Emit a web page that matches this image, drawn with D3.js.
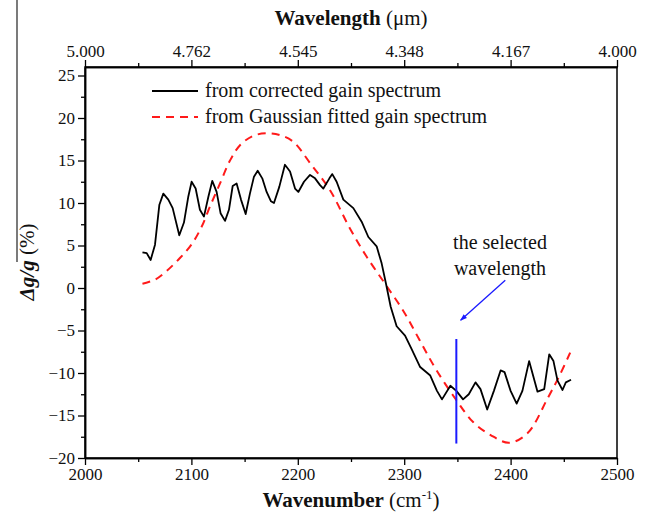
<!DOCTYPE html>
<html>
<head>
<meta charset="utf-8">
<script src="https://cdn.jsdelivr.net/npm/d3@7"></script>
<style>
body { margin: 0; background: #fff; }
svg { font-family: "Liberation Serif", "Times New Roman", serif; }
</style>
</head>
<body>
<svg id="chart" width="648" height="512"></svg>
<script>
// ---- data ----
const blackX = [2054,2058,2061.7,2065.8,2069.9,2073.6,2078.3,2082.4,2088.6,2093,2097,2100.2,2104,2108,2111.8,2115.9,2119.6,2123.7,2127.4,2131.6,2135.3,2138.8,2142.5,2146.6,2151,2155,2158.8,2162.3,2166.6,2170.7,2174.8,2177.6,2182.6,2187.9,2192.7,2197.4,2200.5,2205.8,2211.5,2216.2,2220.9,2224,2229.7,2232.4,2236.5,2242.8,2252.2,2260,2266.3,2274.1,2278.8,2282.9,2287.3,2292.9,2300.8,2307,2315,2324.5,2330.8,2335.5,2343.4,2349,2355.3,2360.7,2367,2371.7,2378,2384.3,2390.6,2394.3,2400,2405.7,2411.1,2417.4,2425.3,2431.6,2436.3,2440.3,2444.1,2448.8,2451.9,2456.8];
const blackY = [4.2,4.1,3.3,5.1,9.8,11.1,10.4,9.4,6.2,7.7,10.7,12.5,11.7,9.2,8.4,10.7,12.6,11.3,8.8,7.9,9.2,12.0,12.3,10.4,8.7,11.1,13.1,13.8,12.9,11.3,10.2,10.0,11.9,14.5,13.7,11.7,11.3,12.5,13.3,12.9,12.1,11.7,12.9,13.4,12.5,10.4,9.4,7.8,6.0,4.9,2.9,0.5,-2.2,-4.5,-5.6,-7.2,-9.3,-10.3,-12.1,-13.1,-11.5,-12.1,-13.1,-12.5,-11.1,-11.9,-14.3,-12.1,-9.7,-9.9,-12.1,-13.6,-12.1,-8.6,-12.2,-11.9,-7.8,-8.6,-10.9,-12.0,-11.1,-10.8];
const redX = [2054,2066,2076.7,2089,2100,2109.6,2117.5,2126.9,2136.3,2145.7,2158,2170.7,2183,2195.8,2211.5,2230.3,2249,2264.6,2282,2299.2,2314.8,2330,2349.6,2365,2381.2,2398.5,2415.8,2434.7,2446,2456];
const redY = [0.5,1.0,2.0,3.5,5.1,7.2,9.6,12.3,15.0,16.8,17.9,18.2,18.0,17.2,14.7,11.5,7.0,3.7,0.5,-2.7,-6.2,-9.6,-13.3,-15.8,-17.3,-18.2,-17.1,-13.0,-10.3,-7.6];
const xTicks = [2000,2100,2200,2300,2400,2500];
const xTickLabels = ["2000","2100","2200","2300","2400","2500"];
const topTickLabels = ["5.000","4.762","4.545","4.348","4.167","4.000"];
const yTicks = [-20,-15,-10,-5,0,5,10,15,20,25];
const selectedWn = [2349];
const selectedRange = [-6, -18.3];
const legendLabels = ["from corrected gain spectrum", "from Gaussian fitted gain spectrum"];
const annotationLines = ["the selected", "wavelength"];

// ---- layout ----
const L = 85, R = 617, T = 67, B = 458;
const svg = d3.select("#chart");
const x = d3.scaleLinear().domain([2000, 2500]).range([L, R]);
const y = d3.scaleLinear().domain([-20, 26]).range([B, T]);

// frame
svg.append("rect").attr("x", L).attr("y", T).attr("width", R - L).attr("height", B - T)
  .attr("fill", "none").attr("stroke", "#000").attr("stroke-width", 1.5);

const fontTick = 17;
// bottom axis
const bAxis = svg.append("g").attr("transform", `translate(0,${B})`)
  .call(d3.axisBottom(x).tickValues(xTicks).tickFormat((d,i)=>xTickLabels[i]).tickSize(7).tickSizeOuter(0));
svg.append("g").attr("transform", `translate(0,${B})`)
  .call(d3.axisBottom(x).tickValues(d3.range(2050, 2500, 100)).tickFormat("").tickSize(4).tickSizeOuter(0));
// top axis
svg.append("g").attr("transform", `translate(0,${T})`)
  .call(d3.axisTop(x).tickValues(xTicks).tickFormat((d,i)=>topTickLabels[i]).tickSize(7).tickSizeOuter(0));
svg.append("g").attr("transform", `translate(0,${T})`)
  .call(d3.axisTop(x).tickValues(d3.range(2050, 2500, 100)).tickFormat("").tickSize(4).tickSizeOuter(0));
// left axis
svg.append("g").attr("transform", `translate(${L},0)`)
  .call(d3.axisLeft(y).tickValues(yTicks).tickSize(7).tickSizeOuter(0));
svg.append("g").attr("transform", `translate(${L},0)`)
  .call(d3.axisLeft(y).tickValues(d3.range(-17.5, 25, 5)).tickFormat("").tickSize(4).tickSizeOuter(0));

svg.selectAll(".domain").attr("stroke", "#000").attr("stroke-width", 1.5);
svg.selectAll(".tick line").attr("stroke", "#000").attr("stroke-width", 1.3);
svg.selectAll(".tick text").attr("font-family", "Liberation Serif").attr("font-size", fontTick).attr("fill", "#111");
bAxis.selectAll(".tick text").attr("y", 8).attr("dy", "0.8em");

// axis titles
const bt = svg.append("text").attr("x", (L + R) / 2).attr("y", 507).attr("text-anchor", "middle")
  .attr("font-size", 21).attr("fill", "#111");
bt.append("tspan").attr("font-weight", "bold").text("Wavenumber");
bt.append("tspan").text(" (cm");
bt.append("tspan").attr("font-size", 13).attr("dy", -8).text("-1");
bt.append("tspan").attr("dy", 8).text(")");

const tt = svg.append("text").attr("x", (L + R) / 2).attr("y", 25).attr("text-anchor", "middle")
  .attr("font-size", 21).attr("fill", "#111");
tt.append("tspan").attr("font-weight", "bold").text("Wavelength");
tt.append("tspan").text(" (\u03bcm)");

const yl = svg.append("text").attr("transform", "translate(34,262) rotate(-90)").attr("text-anchor", "middle")
  .attr("font-size", 21).attr("fill", "#111");
yl.append("tspan").attr("font-weight", "bold").attr("font-style", "italic").text("\u0394g/g");
yl.append("tspan").text(" (%)");
// stray vertical rule seen at left edge in the original
svg.append("line").attr("x1", 17).attr("x2", 17).attr("y1", 0).attr("y2", 262)
  .attr("stroke", "#222").attr("stroke-width", 1.2);

// lines
const blackData = blackX.map((d,i)=>[d, blackY[i]]);
const redData = redX.map((d,i)=>[d, redY[i]]);
const smoothGen = d3.line().x(d=>x(d[0])).y(d=>y(d[1])).curve(d3.curveCatmullRom.alpha(0.5));
const linGen = d3.line().x(d=>x(d[0])).y(d=>y(d[1]));
svg.append("path").datum(redData).attr("d", smoothGen).attr("fill", "none")
  .attr("stroke", "#ff1a1a").attr("stroke-width", 2).attr("stroke-dasharray", "8,6");
svg.append("path").datum(blackData).attr("d", linGen).attr("fill", "none")
  .attr("stroke", "#000").attr("stroke-width", 1.8).attr("stroke-linejoin", "round");

// selected wavelength
svg.append("line").attr("x1", x(selectedWn[0])).attr("x2", x(selectedWn[0]))
  .attr("y1", y(selectedRange[0])).attr("y2", y(selectedRange[1]))
  .attr("stroke", "#1a1aff").attr("stroke-width", 2);

// arrow
svg.append("defs").append("marker").attr("id", "arr").attr("viewBox", "0 0 10 10")
  .attr("refX", 9).attr("refY", 5).attr("markerWidth", 7).attr("markerHeight", 7)
  .attr("orient", "auto").attr("markerUnits", "userSpaceOnUse")
  .append("path").attr("d", "M0,1.5 L10,5 L0,8.5 Z").attr("fill", "#1a1aff");
svg.append("line").attr("x1", x(2395)).attr("y1", y(0.9)).attr("x2", x(2353)).attr("y2", y(-3.8))
  .attr("stroke", "#1a1aff").attr("stroke-width", 1.3).attr("marker-end", "url(#arr)");

// annotation text
annotationLines.forEach((t,i)=>{
  svg.append("text").attr("x", 500).attr("y", 249 + i * 26).attr("text-anchor", "middle")
    .attr("font-size", 20).attr("fill", "#111").text(t);
});

// legend
const lg = svg.append("g");
lg.append("line").attr("x1", 152).attr("x2", 198).attr("y1", 91).attr("y2", 91)
  .attr("stroke", "#000").attr("stroke-width", 1.8);
lg.append("line").attr("x1", 152).attr("x2", 198).attr("y1", 117).attr("y2", 117)
  .attr("stroke", "#ff1a1a").attr("stroke-width", 2).attr("stroke-dasharray", "8,6");
legendLabels.forEach((t,i)=>{
  lg.append("text").attr("x", 205).attr("y", 97 + i * 26).attr("font-size", 20).attr("fill", "#111").text(t);
});
</script>
</body>
</html>
